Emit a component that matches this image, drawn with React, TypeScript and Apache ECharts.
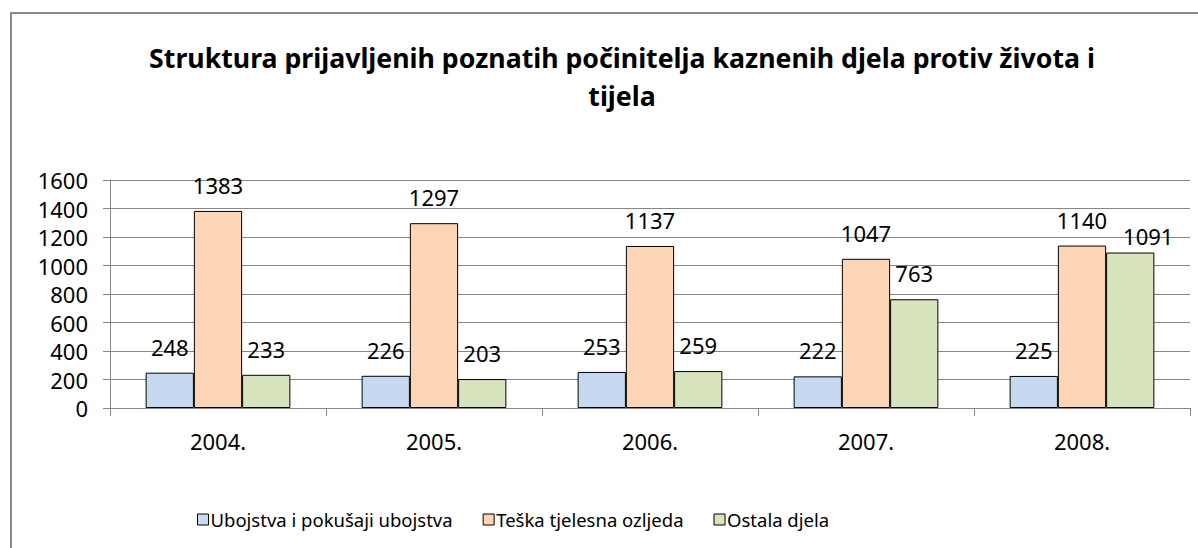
import React, { useEffect, useRef } from "react";
import * as echarts from "echarts";

const categories = ["2004.", "2005.", "2006.", "2007.", "2008."];
const seriesNames = ["Ubojstva i pokušaji ubojstva", "Teška tjelesna ozljeda", "Ostala djela"];
const ubojstva = [248, 226, 253, 222, 225];
const teska = [1383, 1297, 1137, 1047, 1140];
const ostala = [233, 203, 259, 763, 1091];
const colors = ["#C6D9F1", "#FBD5B5", "#D7E4BD"];
const titleText = "Struktura prijavljenih poznatih počinitelja kaznenih djela protiv života i\ntijela";

const FONT = "Noto Sans";

export default function App() {
  const ref = useRef<HTMLDivElement>(null);
  useEffect(() => {
    if (!ref.current) return;
    const chart = echarts.init(ref.current, undefined, { renderer: "svg" });
    const data = [ubojstva, teska, ostala];
    chart.setOption({
      animation: false,
      backgroundColor: "#ffffff",
      textStyle: { fontFamily: FONT },
      graphic: [
        {
          type: "rect",
          shape: { x: 11, y: 13, width: 1200, height: 600 },
          style: { fill: "none", stroke: "#8a8a8a", lineWidth: 2 },
          silent: true,
        },
      ],
      title: {
        text: titleText,
        left: 617,
        textAlign: "center",
        top: 33,
        textStyle: { fontFamily: FONT, fontSize: 26.7, fontWeight: "bold", color: "#000", lineHeight: 38 },
      },
      legend: {
        bottom: 14,
        left: 192,
        itemWidth: 11,
        itemHeight: 11,
        itemGap: 30,
        icon: "rect",
        textStyle: { fontFamily: FONT, fontSize: 18.5, color: "#000", padding: [0, 0, 0, -3] },
        data: seriesNames.map((n) => ({ name: n, itemStyle: { borderColor: "#000", borderWidth: 1 } })),
      },
      grid: { left: 110, right: 8, top: 180, bottom: 140, containLabel: false },
      xAxis: {
        type: "category",
        data: categories,
        axisLine: { lineStyle: { color: "#868686" } },
        axisTick: { show: true, length: 8, lineStyle: { color: "#868686" } },
        axisLabel: { fontFamily: FONT, fontSize: 22, color: "#000", margin: 22 },
      },
      yAxis: {
        type: "value",
        min: 0,
        max: 1600,
        interval: 200,
        axisLine: { show: true, lineStyle: { color: "#868686" } },
        axisTick: { show: true, length: 7, lineStyle: { color: "#868686" } },
        splitLine: { lineStyle: { color: "#868686" } },
        axisLabel: { fontFamily: FONT, fontSize: 22, color: "#000", margin: 22, formatter: (v: number) => String(v) },
      },
      series: seriesNames.map((name, i) => ({
        name,
        type: "bar",
        data: data[i].map((v, j) =>
          i === 2 && j === 4 ? { value: v, label: { offset: [18, 9] } } : v
        ),
        barGap: "0%",
        barCategoryGap: "33%",
        itemStyle: { color: colors[i], borderColor: "#000", borderWidth: 1 },
        label: {
          show: true,
          position: "top",
          distance: 15,
          fontFamily: FONT,
          fontSize: 22,
          color: "#000",
        },
      })),
    });
    return () => chart.dispose();
  }, []);
  return <div ref={ref} style={{ width: 1198, height: 548, position: "absolute", left: 0, top: 0 }} />;
}
